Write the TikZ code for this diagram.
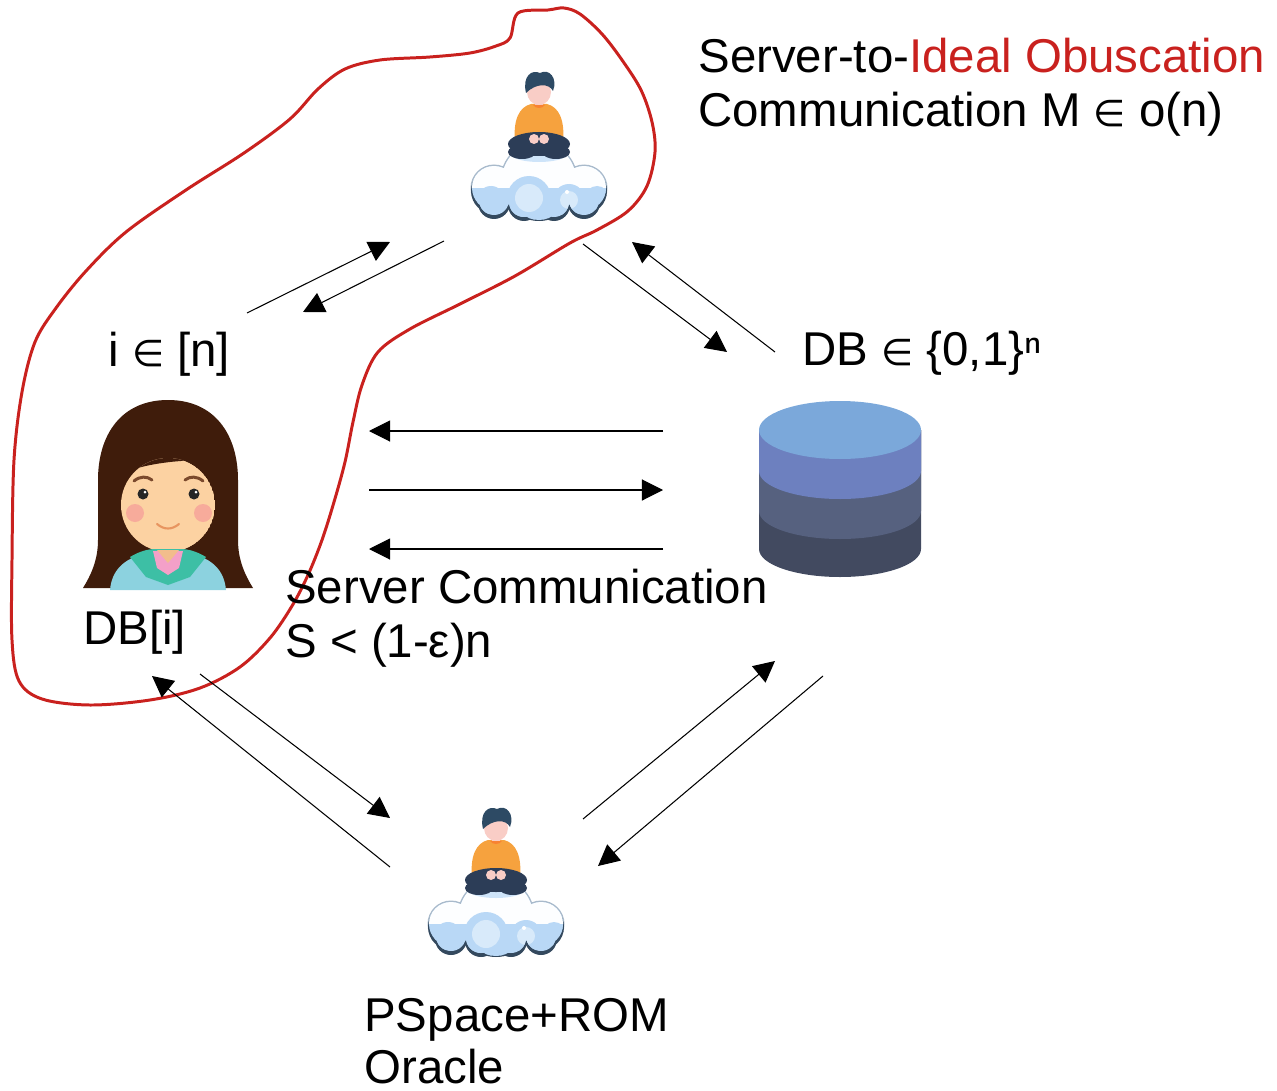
\documentclass[tikz,border=0pt]{standalone}
\usepackage{fontspec}
\setmainfont{Liberation Sans}
\newfontfamily\symfont{DejaVu Sans}
\usetikzlibrary{arrows.meta}

\definecolor{obf}{HTML}{C9211E}
\definecolor{hairdark}{HTML}{2D4A64}
\definecolor{skinpink}{HTML}{F9CDC6}
\definecolor{shirtorange}{HTML}{F6A23E}
\definecolor{pantsnavy}{HTML}{2C3D57}
\definecolor{cloudline}{HTML}{34495E}
\definecolor{cloudrim}{HTML}{A9BACB}
\definecolor{cloudblue}{HTML}{B9D8F6}
\definecolor{hairbrown}{HTML}{3F1C0B}
\definecolor{faceskin}{HTML}{FCD2A2}
\definecolor{neckskin}{HTML}{F2BD8C}
\definecolor{browbrown}{HTML}{7B4A2D}
\definecolor{cheek}{HTML}{F7AB9B}
\definecolor{smile}{HTML}{E89560}
\definecolor{jacket}{HTML}{8CD2DF}
\definecolor{collar}{HTML}{3DBFA5}
\definecolor{tee}{HTML}{F4A0C8}
\definecolor{dbtop}{HTML}{7BA8DA}
\definecolor{dbone}{HTML}{6D80BF}
\definecolor{dbtwo}{HTML}{56617F}
\definecolor{dbthree}{HTML}{424A60}

\tikzstyle{msg}=[-{Triangle[length=12pt,width=12pt]},line width=0.6pt]
\tikzstyle{lbl}=[anchor=base west,inner sep=0pt,font=\fontsize{27}{32}\selectfont]
\tikzstyle{obfline}=[draw=obf,line width=1.7pt,line join=round]

\newcommand\elem{{\symfont\fontsize{21}{24}\selectfont ∈}}

\tikzset{
  % someone meditating on a cloud
  sage/.pic={
    \fill[cloudrim] (0,40) circle (38.5) (-45,48) circle (23.5) (45,48) circle (23.5)
      (-45,60) circle (16.5) (-15,62) circle (16.5) (15,62) circle (16.5) (45,60) circle (16.5);
    \fill[cloudline] (0,44) circle (37) (-45,51) circle (23) (45,51) circle (23)
      (-45,63) circle (16) (-15,65) circle (16) (15,65) circle (16) (45,63) circle (16);
    \begin{scope}
      \clip (0,40) circle (37) (-45,48) circle (22) (45,48) circle (22)
        (-45,60) circle (15) (-15,62) circle (15) (15,62) circle (15) (45,60) circle (15) (0,55) circle (25);
      \fill[cloudblue] (-80,0) rectangle (80,80);
      \fill[white!97!cloudblue] (-80,-10) rectangle (80,48);
      \fill[cloudblue] (-10,58) circle (22) (30,60) circle (16) (-48,60) circle (14) (58,58) circle (12);
      \fill[cloudblue!55!white] (-10,58) circle (14) (30,60) circle (9);
      \fill[cloudblue!70!white] (0,14) ellipse [x radius=28, y radius=8];
    \end{scope}
    \fill[white] (28,52) circle (2);
    % shirt
    \fill[shirtorange] (-24,2) .. controls (-26,-20) and (-20,-33) .. (-8,-36) -- (8,-36)
      .. controls (20,-33) and (26,-20) .. (24,2) -- cycle;
    % crossed legs
    \fill[pantsnavy] (0,4) ellipse [x radius=31, y radius=12];
    \fill[pantsnavy] (-17,12) ellipse [x radius=14, y radius=7] (17,12) ellipse [x radius=14, y radius=7];
    \fill[skinpink] (-5,-1) circle (5) (5,-1) circle (5);
    % head
    \fill[skinpink] (-4,-42) rectangle (4,-33);
    \fill[shirtorange!80!red] (-6,-35) .. controls (-3,-31) and (3,-31) .. (6,-35) -- cycle;
    \fill[skinpink] (0,-48) ellipse [x radius=12, y radius=13];
    \fill[hairdark] (-13,-47) .. controls (-17,-64) and (-7,-71) .. (1,-67)
      .. controls (10,-72) and (19,-62) .. (14,-49) .. controls (10,-57) and (-3,-57) .. (-13,-47) -- cycle;
  },
  % the user
  girl/.pic={
    \fill[hairbrown] (0,-95) .. controls (47,-95) and (70,-60) .. (70,-15) -- (70,45)
      .. controls (70,65) and (77,80) .. (85,93) -- (-85,93)
      .. controls (-77,80) and (-70,65) .. (-70,45) -- (-70,-15)
      .. controls (-70,-60) and (-47,-95) .. (0,-95) -- cycle;
    \fill[neckskin] (-13,45) rectangle (13,70);
    \begin{scope}
      \clip (0,10) circle (47);
      \fill[faceskin] (0,10) circle (47);
      \fill[hairbrown] (-60,-15) .. controls (-30,-32) and (10,-36) .. (60,-35) -- (60,-60) -- (-60,-60) -- cycle;
    \end{scope}
    \draw[browbrown,line width=1.7pt,line cap=round] (-34,-14) .. controls (-28,-19) and (-21,-19) .. (-16,-15)
      (17,-15) .. controls (22,-19) and (29,-19) .. (35,-14);
    \fill[black!85] (-25,-1) circle (5.5) (26,-1) circle (5.5);
    \fill[white] (-23,-3) circle (1.5) (28,-3) circle (1.5);
    \fill[cheek] (-33,18) circle (9) (35,18) circle (9);
    \draw[smile,line width=1.2pt,line cap=round] (-11,29) .. controls (-4,35) and (4,35) .. (11,29);
    \fill[jacket] (-58,95) .. controls (-56,72) and (-40,62) .. (-20,58) -- (20,58)
      .. controls (40,62) and (56,72) .. (58,95) -- cycle;
    \fill[collar] (-38,62) .. controls (-28,56) and (-20,54) .. (-12,54) -- (12,54)
      .. controls (20,54) and (28,56) .. (38,62) -- (22,82) -- (0,90) -- (-22,82) -- cycle;
    \fill[tee] (-15,56) -- (15,56) -- (11,73) -- (0,80) -- (-11,73) -- cycle;
    \fill[neckskin] (-11,55) -- (11,55) -- (0,68) -- cycle;
  },
  % the server's database
  dbstack/.pic={
    \fill[dbthree] (-81,-60) -- (-81,59) arc[start angle=180,end angle=0,x radius=81,y radius=28] -- (81,-60) -- cycle;
    \fill[dbtwo] (-81,-60) -- (-81,21) arc[start angle=180,end angle=0,x radius=81,y radius=28] -- (81,-60) -- cycle;
    \fill[dbone] (-81,-60) -- (-81,-19) arc[start angle=180,end angle=0,x radius=81,y radius=28] -- (81,-60) -- cycle;
    \fill[dbtop] (0,-60) ellipse [x radius=81, y radius=29];
  }
}

\begin{document}
\begin{tikzpicture}[x=0.02cm,y=-0.02cm]
  \useasboundingbox (0,0) rectangle (1277,1091);

  % the parties
  \pic (ideal) at (539,140) {sage};
  \pic (oracle) at (496,876) {sage};
  \pic (user) at (168,495) {girl};
  \pic (server) at (840,490) {dbstack};

  % the region that the obfuscation covers
  \draw[obfline] plot[smooth cycle,tension=0.55] coordinates {
    (518,13) (548,10) (564,8) (580,14) (602,34) (622,60) (641,90) (652,122) (655,152)
    (647,186) (628,211) (597,230) (570,243) (515,276) (460,304) (410,329) (378,352)
    (362,385) (353,422) (345,462) (334,502) (322,540) (308,575) (292,606) (270,638)
    (240,667) (200,688) (150,700) (90,705) (42,699) (19,681) (12,640) (12,560) (14,460)
    (22,392) (35,342) (56,308) (86,271) (126,232) (186,190) (244,153) (290,119)
    (318,89) (345,69) (380,60) (430,57) (470,53) (496,46) (510,38)};

  % end points of the messages
  \coordinate (q1s) at (247,313);  \coordinate (q1e) at (390,242);
  \coordinate (q2s) at (444,241);  \coordinate (q2e) at (303,312);
  \coordinate (d1s) at (583,244);  \coordinate (d1e) at (727,352);
  \coordinate (d2s) at (775,352);  \coordinate (d2e) at (632,242);
  \coordinate (h1s) at (663,431);  \coordinate (h1e) at (369,431);
  \coordinate (h2s) at (369,490);  \coordinate (h2e) at (663,490);
  \coordinate (h3s) at (663,549);  \coordinate (h3e) at (369,549);
  \coordinate (o1s) at (200,674);  \coordinate (o1e) at (390,818);
  \coordinate (o2s) at (390,867);  \coordinate (o2e) at (152,676);
  \coordinate (r1s) at (583,819);  \coordinate (r1e) at (775,661);
  \coordinate (r2s) at (823,676);  \coordinate (r2e) at (598,866);

  \draw[msg] (q1s) -- (q1e);
  \draw[msg] (q2s) -- (q2e);
  \draw[msg] (d1s) -- (d1e);
  \draw[msg] (d2s) -- (d2e);
  \draw[msg] (h1s) -- (h1e);
  \draw[msg] (h2s) -- (h2e);
  \draw[msg] (h3s) -- (h3e);
  \draw[msg] (o1s) -- (o1e);
  \draw[msg] (o2s) -- (o2e);
  \draw[msg] (r1s) -- (r1e);
  \draw[msg] (r2s) -- (r2e);

  % labels
  \node[lbl] (obf1) at (698,73) {Server-to-\textcolor{obf}{Ideal Obuscation}};
  \node[lbl] (obf2) at (698,127) {Communication M \elem\ o(n)};
  \node[lbl] (query) at (108,366) {i \elem\ [n]};
  \node[lbl] (dbset) at (802,365) {DB \elem\ \{0,1\}ⁿ};
  \node[lbl] (answer) at (83,644) {DB[i]};
  \node[lbl] (comm1) at (285,603) {Server Communication};
  \node[lbl] (comm2) at (285,657) {S < (1-ε)n};
  \node[lbl] (orc1) at (364,1031) {PSpace+ROM};
  \node[lbl] (orc2) at (364,1083) {Oracle};
\end{tikzpicture}
\end{document}
